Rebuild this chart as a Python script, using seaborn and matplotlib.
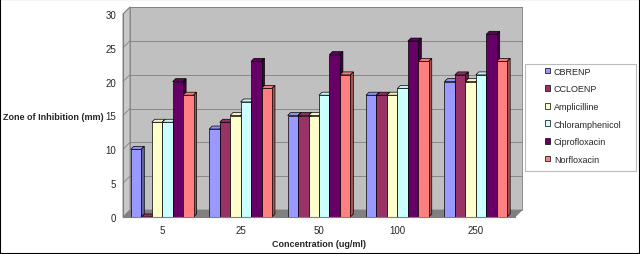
import numpy as np
import pandas as pd
import seaborn as sns
import matplotlib.pyplot as plt
from matplotlib.patches import Polygon, Rectangle
from matplotlib.lines import Line2D

# data
concentrations = ['5', '25', '50', '100', '250']
series_names = ['CBRENP', 'CCLOENP', 'Amplicilline', 'Chloramphenicol',
                'Ciprofloxacin', 'Norfloxacin']
cbrenp = [10, 13, 15, 18, 20]
ccloenp = [0, 14, 15, 18, 21]
amplicilline = [14, 15, 15, 18, 20]
chloramphenicol = [14, 17, 18, 19, 21]
ciprofloxacin = [20, 23, 24, 26, 27]
norfloxacin = [18, 19, 21, 23, 23]
y_ticks = [0, 5, 10, 15, 20, 25, 30]

colors = ['#9999FF', '#993366', '#FFFFCC', '#CCFFFF', '#660066', '#FF8080']

df = pd.DataFrame({
    'Concentration': concentrations,
    'CBRENP': cbrenp,
    'CCLOENP': ccloenp,
    'Amplicilline': amplicilline,
    'Chloramphenicol': chloramphenicol,
    'Ciprofloxacin': ciprofloxacin,
    'Norfloxacin': norfloxacin,
}).melt(id_vars='Concentration', var_name='Series', value_name='Zone')

sns.set_style('white')
plt.rcParams['font.family'] = ['Liberation Sans', 'DejaVu Sans']

W, H = 640, 255
fig = plt.figure(figsize=(6.4, 2.55), dpi=100)
fig.patch.set_facecolor('white')
ax = fig.add_axes([123 / W, 1 - 218 / H, (515 - 123) / W, (218 - 15) / H])
ax.set_facecolor('none')

sns.barplot(data=df, x='Concentration', y='Zone', hue='Series',
            hue_order=series_names, palette=colors, width=0.8, gap=0,
            edgecolor='black', linewidth=0.5, saturation=1, ax=ax,
            legend=False)
bars = sorted(list(ax.patches), key=lambda p: p.get_x())
ax.set_xlim(-0.5, len(concentrations) - 0.5)
ax.set_ylim(0, 30)

# pixel -> data conversions for the pseudo-3D depth
px_x = 1.0 / 78.4
px_y = 30.0 / 203.0
wall_dx, wall_dy = 7 * px_x, 7 * px_y
bar_dx, bar_dy = 3 * px_x, 3 * px_y

x0, x1 = ax.get_xlim()
wall_col = '#C0C0C0'
# back wall
ax.add_patch(Rectangle((x0 + wall_dx, wall_dy), x1 - x0, 30, facecolor=wall_col,
                       edgecolor='#808080', linewidth=0.6, zorder=0.1,
                       clip_on=False))
# left wall
ax.add_patch(Polygon([(x0, 0), (x0 + wall_dx, wall_dy), (x0 + wall_dx, 30 + wall_dy),
                      (x0, 30)], closed=True, facecolor='#C8C8C8',
                     edgecolor='#808080', linewidth=0.6, zorder=0.2, clip_on=False))
# floor
ax.add_patch(Polygon([(x0, 0), (x1, 0), (x1 + wall_dx, wall_dy), (x0 + wall_dx, wall_dy)],
                     closed=True, facecolor='#808080', edgecolor='#808080',
                     linewidth=0.6, zorder=0.3, clip_on=False))
# gridlines on back and left wall
for t in y_ticks[1:]:
    ax.add_line(Line2D([x0 + wall_dx, x1 + wall_dx], [t + wall_dy, t + wall_dy],
                       color='#808080', linewidth=0.6, zorder=0.4, clip_on=False))
    ax.add_line(Line2D([x0, x0 + wall_dx], [t, t + wall_dy],
                       color='#808080', linewidth=0.6, zorder=0.4, clip_on=False))


def shade(c, f):
    rgb = np.array(plt.matplotlib.colors.to_rgb(c))
    return tuple(rgb * f)


# 3D faces for each bar, drawn left to right
for i, b in enumerate(bars):
    bx, bw, bh = b.get_x(), b.get_width(), b.get_height()
    fc = b.get_facecolor()
    z = 1 + i * 0.01
    b.set_zorder(z + 0.005)
    top = Polygon([(bx, bh), (bx + bw, bh), (bx + bw + bar_dx, bh + bar_dy),
                   (bx + bar_dx, bh + bar_dy)], closed=True, facecolor=shade(fc, 0.95),
                  edgecolor='black', linewidth=0.5, zorder=z, clip_on=False)
    side = Polygon([(bx + bw, 0), (bx + bw + bar_dx, bar_dy), (bx + bw + bar_dx, bh + bar_dy),
                    (bx + bw, bh)], closed=True, facecolor=shade(fc, 0.65),
                   edgecolor='black', linewidth=0.5, zorder=z, clip_on=False)
    ax.add_patch(top)
    ax.add_patch(side)

# axes styling
for s in ['top', 'right']:
    ax.spines[s].set_visible(False)
for s in ['left', 'bottom']:
    ax.spines[s].set_color('#808080')
    ax.spines[s].set_linewidth(0.8)
    ax.spines[s].set_zorder(5)
ax.set_yticks(y_ticks)
ax.set_xticks(range(len(concentrations)))
ax.set_xticklabels(concentrations)
ax.set_xticks(np.arange(-0.5, len(concentrations), 1.0), minor=True)
ax.tick_params(axis='x', which='major', length=0, pad=6, labelsize=7)
ax.tick_params(axis='x', which='minor', length=4, color='#808080', width=0.8)
ax.tick_params(axis='y', length=3, color='#808080', width=0.8, pad=2, labelsize=7)
ax.grid(False)

ax.set_xlabel('Concentration (ug/ml)', fontsize=6.5, fontweight='bold', labelpad=3)
ax.set_ylabel('Zone of Inhibition (mm)', fontsize=6.5, fontweight='bold',
              rotation=0, ha='right', va='center')
ax.yaxis.set_label_coords(-0.049, 0.495)

# legend
handles = [Rectangle((0, 0), 1, 1, facecolor=c, edgecolor='black', linewidth=0.5)
           for c in colors]
fig.patches.append(Rectangle((525 / W, 1 - 172 / H), 111 / W, 107 / H,
                             transform=fig.transFigure, facecolor='white',
                             edgecolor='#BBBBBB', linewidth=0.8, zorder=0))
fig.legend(handles, series_names, loc='upper left',
           bbox_to_anchor=(543 / W, 1 - 66 / H), frameon=False, fontsize=6.5,
           handlelength=0.6, handleheight=0.6, handletextpad=0.4,
           labelspacing=0.95, borderpad=0.2, borderaxespad=0)

# outer frame
fig.patches.append(Rectangle((0, 0), 1, 1, transform=fig.transFigure,
                             facecolor='none', edgecolor='black', linewidth=1.5,
                             zorder=10))

plt.savefig('out.png', dpi=100)
plt.close()
